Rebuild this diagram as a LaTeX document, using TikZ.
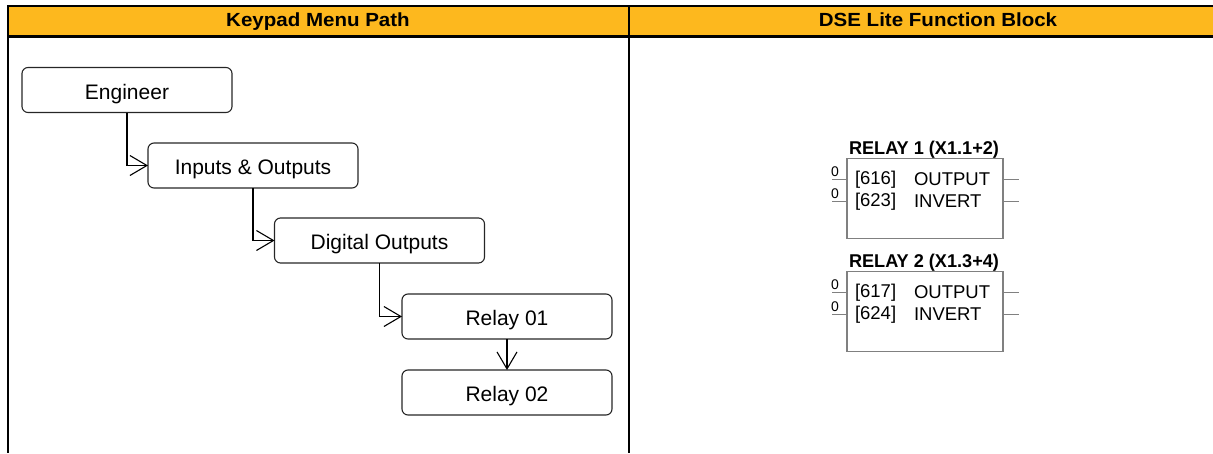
\documentclass[tikz,border=0pt]{standalone}
\usepackage{fontspec}
\setmainfont{Liberation Sans}
\newfontfamily\hdrfont[FakeStretch=1.08]{Liberation Sans Bold}
\newfontfamily\ttlfont[FakeStretch=0.98]{Liberation Sans Bold}
\usetikzlibrary{arrows.meta,calc}

\definecolor{hdrorange}{RGB}{253,184,30}
\definecolor{blkgray}{RGB}{128,128,128}

\begin{document}
\begin{tikzpicture}[
    x=1pt, y=-1pt,
    every node/.style={inner sep=0pt, outer sep=0pt},
    menu/.style={draw=black!85, line width=1.1pt, rounded corners=6pt, minimum width=210pt, minimum height=45pt,
        text height=18pt, text depth=0pt, font=\fontsize{21}{24}\selectfont},
    link/.style={line width=1.1pt, -{Straight Barb[length=17pt, width=20pt, line width=1.1pt]}},
    hdr/.style={anchor=base, font=\hdrfont\fontsize{19}{22}\selectfont},
    fblock/.style={draw=blkgray, line width=1.2pt, minimum width=156pt, minimum height=80pt},
    fbtitle/.style={font=\ttlfont\fontsize{18.5}{21}\selectfont},
    fbtext/.style={font=\fontsize{18.5}{21}\selectfont},
    zero/.style={font=\fontsize{14}{16}\selectfont},
    stub/.style={draw=blkgray, line width=1pt}
]
\useasboundingbox (0,0) rectangle (1213,453);

% table header and frame
\fill[hdrorange] (8,6) rectangle (1213,36.5);
\draw[line width=1.7pt] (7,6) -- (1213,6);
\draw[line width=2.5pt] (7,36.5) -- (1213,36.5);
\draw[line width=2pt] (7.7,5.2) -- (7.7,453);
\draw[line width=2.3pt] (629,5.2) -- (629,453);
\node[hdr] (hkey) at (318,26.5) {Keypad Menu Path};
\node[hdr] (hdse) at (938,26.5) {DSE Lite Function Block};

% keypad menu path
\node[menu] (eng) at (127,90) {Engineer};
\node[menu] (io) at (253,165.5) {Inputs \& Outputs};
\node[menu] (dig) at (379.5,240.5) {Digital Outputs};
\node[menu] (rly1) at (507,316.5) {Relay 01};
\node[menu] (rly2) at (507,392.5) {Relay 02};

\draw[link] (eng.south) |- (io.west);
\draw[link] (io.south) |- (dig.west);
\draw[link] (dig.south) |- (rly1.west);
\draw[link] (rly1) -- (rly2);

% function blocks
\foreach \k/\dy/\ttl/\pa/\pb in {1/0/{RELAY 1 (X1.1+2)}/616/623, 2/113/{RELAY 2 (X1.3+4)}/617/624} {
    \node[fblock] (blk\k) at (925,198.5+\dy) {};
    \node[fbtitle, anchor=base west] (ttl\k) at ($(blk\k.north west)+(2,-4)$) {\ttl};
    \foreach \r/\pnum/\nm in {0/\pa/OUTPUT, 1/\pb/INVERT} {
        \coordinate (in\k\r) at ($(blk\k.north west)+(-15,21+22*\r)$);
        \coordinate (out\k\r) at ($(blk\k.north east)+(16,21+22*\r)$);
        \draw[stub] (in\k\r) -- (in\k\r -| blk\k.west);
        \draw[stub] (out\k\r -| blk\k.east) -- (out\k\r);
        \node[zero, anchor=base west] at ($(in\k\r)+(-1,-3)$) {0};
        \node[fbtext, anchor=west] at ($(blk\k.north west)+(8,21+22*\r)$) {[\pnum]};
        \node[fbtext, anchor=west] at ($(blk\k.north west)+(67,21+22*\r)$) {\nm};
    }
}
\end{tikzpicture}
\end{document}
